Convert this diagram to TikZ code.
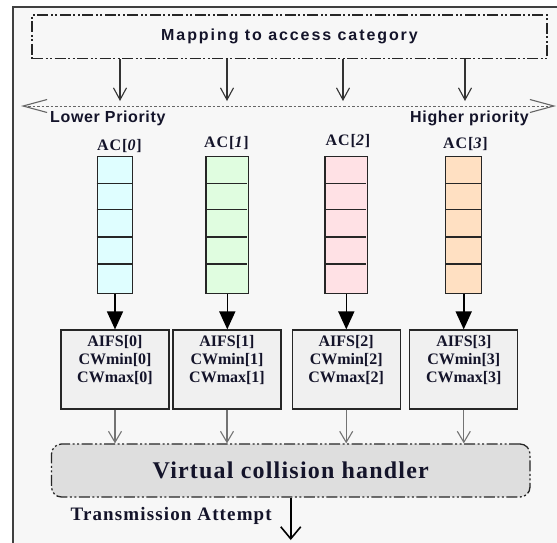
\documentclass[tikz,border=0pt]{standalone}
\usepackage{fontspec}
\setmainfont{Liberation Serif}
\newfontfamily\mapfont[LetterSpace=12]{Liberation Sans}
\newfontfamily\prifont[LetterSpace=4]{Liberation Sans}
\newfontfamily\vchfont[LetterSpace=5]{Liberation Serif}
\newfontfamily\txfont[LetterSpace=6]{Liberation Serif}
\newfontfamily\acfont[LetterSpace=6]{Liberation Serif}
\usetikzlibrary{arrows.meta}
\definecolor{framebg}{HTML}{F7F7F7}
\definecolor{framecol}{HTML}{404040}
\definecolor{qcyan}{HTML}{DFFEFF}
\definecolor{qgreen}{HTML}{E0FDE0}
\definecolor{qpink}{HTML}{FFE1E5}
\definecolor{qpeach}{HTML}{FFE0C2}
\definecolor{parambg}{HTML}{F0F0F0}
\definecolor{vchbg}{HTML}{DEDEDE}
\definecolor{txtcol}{HTML}{14142A}
\tikzset{
  dashdot/.style={dash pattern=on 11pt off 2.5pt on 2pt off 2.5pt on 2pt off 2.5pt},
  mapbox/.style={draw=black!85, line width=1.4pt, dashdot, minimum width=515pt, minimum height=43.6pt, inner sep=0pt, text=txtcol, font=\mapfont\fontsize{16}{18}\selectfont\bfseries},
  openarrow/.style={draw=black!80, line width=1.1pt, -{Straight Barb[length=12pt,width=13pt,line width=1.1pt]}},
  grayarrow/.style={draw=black!55, line width=1.3pt, -{Straight Barb[length=11pt,width=13pt,line width=1.1pt]}},
  priline/.style={draw=black!60, line width=0.9pt, dash pattern=on 2.5pt off 2pt, {Straight Barb[length=24pt,width=13pt,line width=1.1pt]}-{Straight Barb[length=24pt,width=13pt,line width=1.1pt]}},
  prilabel/.style={font=\prifont\fontsize{16}{18}\selectfont\bfseries, text=txtcol, inner sep=0pt},
  aclabel/.style={font=\acfont\fontsize{16}{18}\selectfont\bfseries, text=txtcol, inner sep=0pt},
  queue/.style={draw=black!85, line width=1.2pt, minimum height=136.6pt, inner sep=0pt},
  divider/.style={draw=black!85, line width=1.2pt},
  fillarrow/.style={draw=black, line width=1.6pt, -{Triangle[length=18pt,width=16pt]}},
  parambox/.style={draw=black!85, fill=parambg, line width=1.2pt, minimum width=108pt, minimum height=79pt, inner sep=0pt},
  paramtext/.style={font=\fontsize{16}{18}\selectfont\bfseries, text=txtcol, align=center, inner sep=0pt},
  vchbox/.style={draw=black!85, fill=vchbg, line width=1.3pt, dashdot, rounded corners=10pt, minimum width=478.5pt, minimum height=53pt, inner sep=0pt, text=txtcol, font=\vchfont\fontsize{24}{28}\selectfont\bfseries},
  txarrow/.style={draw=black, line width=1.6pt, -{Straight Barb[length=12pt,width=20pt,line width=1.6pt]}},
  txlabel/.style={font=\txfont\fontsize{19}{22}\selectfont\bfseries, text=txtcol, inner sep=0pt}
}
\begin{document}
\begin{tikzpicture}[x=1pt,y=-1pt]
\useasboundingbox (0,0) rectangle (557,542);
% frame
\fill[framebg] (13,7) rectangle (560,545);
\draw[framecol, line width=1.6pt] (13,545) -- (13,7) -- (560,7);
% mapping box
\node[mapbox] (map) at (289.5,36.8) {Mapping to access category};
% priority line
\coordinate (pl) at (21,106);
\coordinate (pr) at (556,106);
\draw[priline] (pl) -- (pr);
\node[prilabel, anchor=west] (low) at (50,118) {Lower Priority};
\node[prilabel, anchor=east] (high) at (529,118) {Higher priority};
% mapping arrows
\foreach \i/\x in {0/120,1/227,2/343,3/465}{
  \coordinate (m\i) at (\x,101);
  \draw[openarrow] (map.south -| m\i) -- (m\i);
}
% queues
\node[queue, fill=qcyan, minimum width=35.4pt] (q0) at (115,225) {};
\node[queue, fill=qgreen, minimum width=42.7pt] (q1) at (227.3,225) {};
\node[queue, fill=qpink, minimum width=42.7pt] (q2) at (346.3,225) {};
\node[queue, fill=qpeach, minimum width=36pt] (q3) at (463.7,225) {};
\foreach \q in {q0,q3}{
  \foreach \y in {183.3,209.3,237,264}{
    \draw[divider] (\q.west |- 0,\y) -- (\q.east |- 0,\y);
  }
}
\foreach \q in {q1,q2}{
  \foreach \y in {183.3,209.3,237,264}{
    \draw[divider] (\q.west |- 0,\y) -- ([xshift=-2.5pt]\q.east |- 0,\y);
  }
}
% AC labels
\node[aclabel] (ac0) at (119.5,146) {AC[\textit{0}]};
\node[aclabel] (ac1) at (226.5,143.5) {AC[\textit{1}]};
\node[aclabel] (ac2) at (348,141.5) {AC[\textit{2}]};
\node[aclabel] (ac3) at (465.5,144) {AC[\textit{3}]};
% parameter boxes
\foreach \i/\x in {0/115,1/227,2/346.2,3/463.8}{
  \node[parambox] (p\i) at (\x,369.5) {};
  \node[paramtext] (pt\i) at (\x,360) {AIFS[\i]\\CWmin[\i]\\CWmax[\i]};
}
\foreach \i in {0,1,2,3}{
  \draw[fillarrow] (q\i.south) -- (q\i.south |- p\i.north);
}
% virtual collision handler
\node[vchbox] (vch) at (290.75,470.5) {Virtual collision handler};
\foreach \i in {0,1,2,3}{
  \draw[grayarrow] (p\i.south) -- (p\i.south |- vch.north);
}
% transmission
\coordinate (txend) at (290.75,540);
\draw[txarrow] (vch.south) -- (txend);
\node[txlabel, anchor=east] (tx) at (272,516) {Transmission Attempt};
\end{tikzpicture}
\end{document}
